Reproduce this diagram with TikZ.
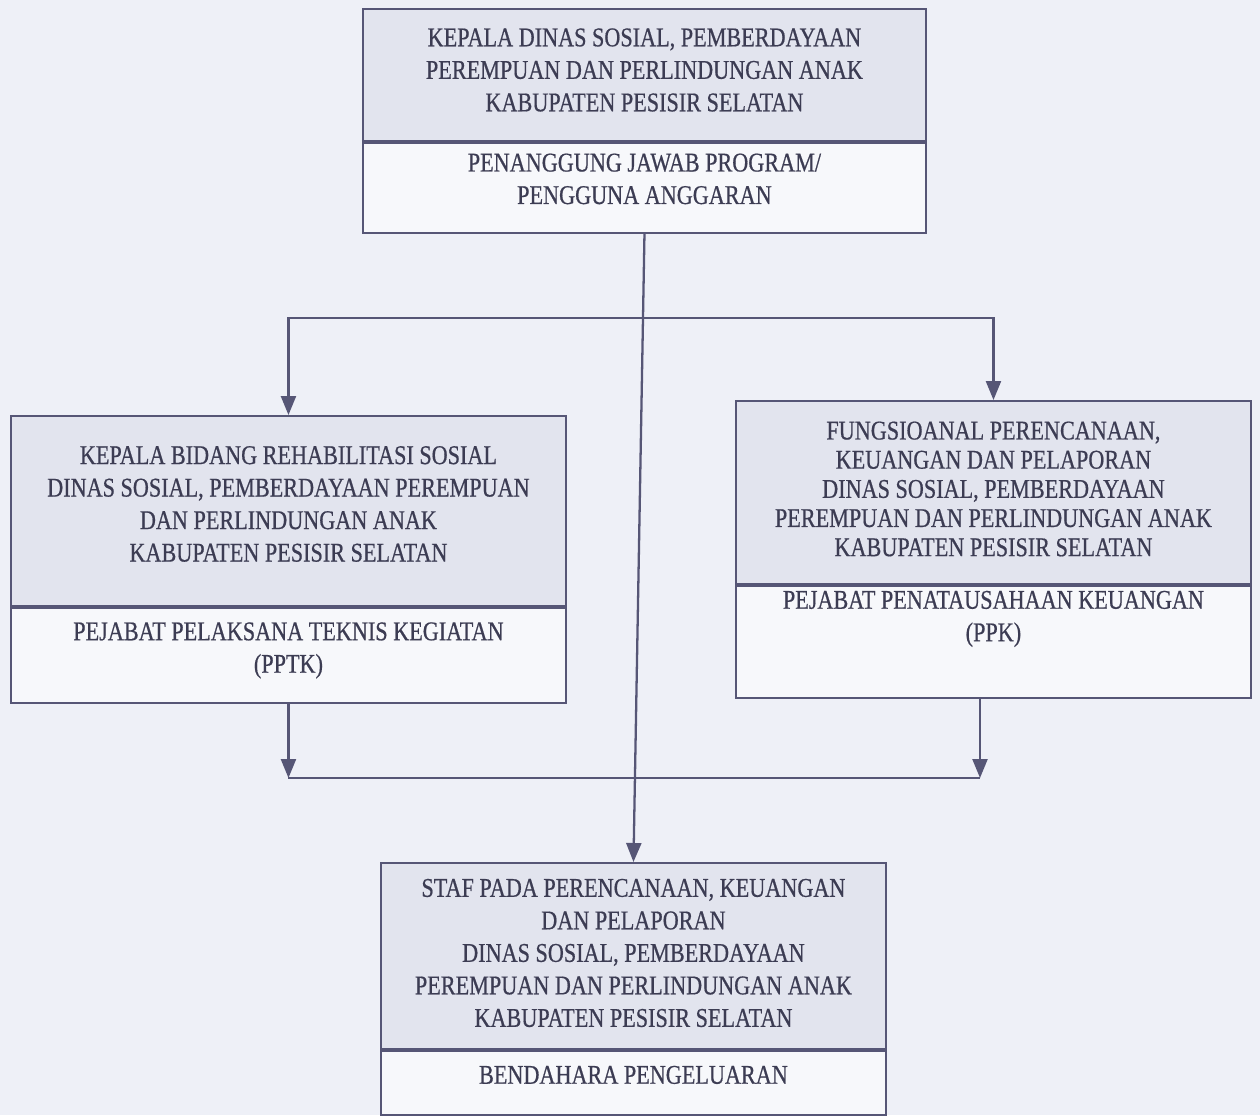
\documentclass[tikz,border=0pt]{standalone}
\usepackage{fontspec}
\setmainfont{Liberation Serif}[FakeStretch=0.82,FakeBold=0.6]
\usepackage{tikz}
\usetikzlibrary{arrows.meta,positioning}
\definecolor{paper}{RGB}{238,240,247}
\definecolor{shade}{RGB}{226,228,238}
\definecolor{ink}{RGB}{86,86,118}
\colorlet{lettering}{ink!70!black}

\begin{document}
\begin{tikzpicture}[
  box/.style={draw=ink, line width=1.1pt, anchor=north west, inner sep=0pt},
  head/.style={box, fill=shade},
  post/.style={box, fill=white!55!paper},
  words/.style={align=center, text=lettering, inner sep=0pt, font=\fontsize{15.4}{18.5}\selectfont},
  tight words/.style={words, font=\fontsize{15.4}{16.6}\selectfont},
  link/.style={draw=ink, line width=1.3pt},
  arr/.style={link, -{Triangle[width=0.3cm,length=0.38cm]}}
]
\fill[paper] (0,0) rectangle (25.2,-22.3);
\useasboundingbox (0,0) rectangle (25.2,-22.3);

\node[head, minimum width=11.26cm, minimum height=2.64cm] (kadis) at (7.24,-0.16) {};
\node[post, minimum width=11.26cm, minimum height=1.8cm] (kadis-pa) at (kadis.south west) {};
\node[words] (kadis-t) at ([yshift=0.1cm]kadis.center) {KEPALA DINAS SOSIAL, PEMBERDAYAAN\\PEREMPUAN DAN PERLINDUNGAN ANAK\\KABUPATEN PESISIR SELATAN};
\node[words] (kadis-pa-t) at ([yshift=0.18cm]kadis-pa.center) {PENANGGUNG JAWAB PROGRAM/\\PENGGUNA ANGGARAN};

\node[head, minimum width=11.1cm, minimum height=3.8cm] (kabid) at (0.2,-8.3) {};
\node[post, minimum width=11.1cm, minimum height=1.9cm] (kabid-pptk) at (kabid.south west) {};
\node[words] (kabid-t) at ([yshift=0.14cm]kabid.center) {KEPALA BIDANG REHABILITASI SOSIAL\\DINAS SOSIAL, PEMBERDAYAAN PEREMPUAN\\DAN PERLINDUNGAN ANAK\\KABUPATEN PESISIR SELATAN};
\node[words] (kabid-pptk-t) at ([yshift=0.1cm]kabid-pptk.center) {PEJABAT PELAKSANA TEKNIS KEGIATAN\\(PPTK)};

\node[head, minimum width=10.3cm, minimum height=3.66cm] (fung) at (14.7,-8.0) {};
\node[post, minimum width=10.3cm, minimum height=2.24cm] (fung-ppk) at (fung.south west) {};
\node[tight words] (fung-t) at ([yshift=0.07cm]fung.center) {FUNGSIOANAL PERENCANAAN,\\KEUANGAN DAN PELAPORAN\\DINAS SOSIAL, PEMBERDAYAAN\\PEREMPUAN DAN PERLINDUNGAN ANAK\\KABUPATEN PESISIR SELATAN};
\node[words] (fung-ppk-t) at ([yshift=0.46cm]fung-ppk.center) {PEJABAT PENATAUSAHAAN KEUANGAN\\(PPK)};

\node[head, minimum width=10.1cm, minimum height=3.72cm] (staf) at (7.6,-17.24) {};
\node[post, minimum width=10.1cm, minimum height=1.28cm] (staf-bp) at (staf.south west) {};
\node[words] (staf-t) at ([yshift=0.06cm]staf.center) {STAF PADA PERENCANAAN, KEUANGAN\\DAN PELAPORAN\\DINAS SOSIAL, PEMBERDAYAAN\\PEREMPUAN DAN PERLINDUNGAN ANAK\\KABUPATEN PESISIR SELATAN};
\node[words] (staf-bp-t) at ([yshift=0.16cm]staf-bp.center) {BENDAHARA PENGELUARAN};

\coordinate (fork) at (kadis-pa.south |- 0,-6.36);
\coordinate (mergeL) at (kabid-pptk.south |- 0,-15.56);
\coordinate (mergeR) at (19.6,-15.56);
\draw[arr] (kadis-pa.south) -- (staf.north);
\draw[arr] (fork) -| (kabid.north);
\draw[arr] (fork) -| (fung.north);
\draw[arr] (kabid-pptk.south) -- (mergeL);
\draw[arr] (fung-ppk.south -| mergeR) -- (mergeR);
\draw[link] (mergeL) -- (mergeR);
\end{tikzpicture}
\end{document}
